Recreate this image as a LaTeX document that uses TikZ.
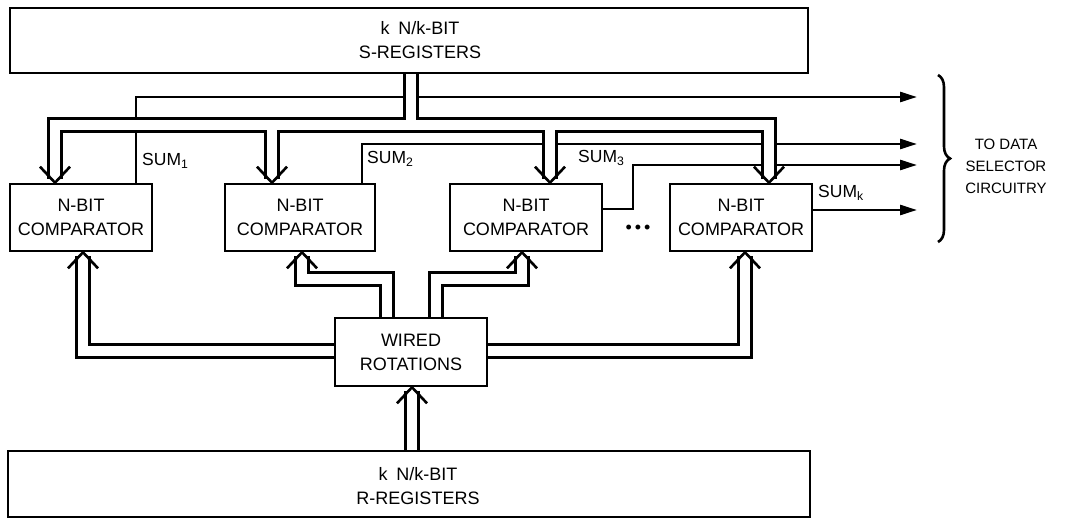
\documentclass[tikz,border=0pt]{standalone}
\usepackage{fontspec}
\setmainfont{Liberation Sans}
\usetikzlibrary{arrows.meta,decorations.pathreplacing,calc}
\newcommand\busroutes{%
  \draw[bus] (S.south -| tk) -- (tk);
  \draw[bus] ($(t1)+(0,-4)$) -- (d1) -- (d4) -- ($(t4)+(0,-4)$);
  \draw[bus] (d2) -- ($(t2)+(0,-4)$);
  \draw[bus] (d3) -- ($(t3)+(0,-4)$);
  \draw[bus] (W.west |- w1) -- (w1) -- ($(b1)+(0,4)$);
  \draw[bus] (W.north -| w2a) -- (w2a) -- (w2b) -- ($(b2)+(0,4)$);
  \draw[bus] (W.north -| w3a) -- (w3a) -- (w3b) -- ($(b3)+(0,4)$);
  \draw[bus] (W.east |- w4) -- (w4) -- ($(b4)+(0,4)$);
  \draw[bus] (R.north -| w5) -- ($(b5)+(0,4)$);
}
\newcommand\chevdn[1]{\draw[wire] ($(#1)+(-15,-16)$) -- (#1) -- ($(#1)+(15,-16)$);}
\newcommand\chevup[1]{\draw[wire] ($(#1)+(-15,16)$) -- (#1) -- ($(#1)+(15,16)$);}
\begin{document}
\begin{tikzpicture}[x=1pt,y=-1pt,
  box/.style={draw, line width=2.6pt, inner sep=0pt, outer sep=1.3pt},
  txt/.style={font=\fontsize{18}{24}\selectfont, align=center, inner sep=0pt},
  wire/.style={line width=2.6pt, line join=miter},
  sumarrow/.style={wire, -{Triangle[length=17pt,width=10pt]}},
  sumlbl/.style={font=\fontsize{17.5}{20}\selectfont, inner sep=0pt, anchor=west},
  sidetxt/.style={font=\fontsize{15}{22}\selectfont, align=center, inner sep=0pt},
]
\useasboundingbox (0,0) rectangle (1074,519);
% boxes
\node[box, minimum width=798pt, minimum height=65pt] (S) at (409,40.5) {};
\node[txt] (Stxt) at (420,40) {k\enspace N/k-BIT\\S-REGISTERS};
\node[box, minimum width=802pt, minimum height=66pt] (R) at (409,484) {};
\node[txt] (Rtxt) at (418,486) {k\enspace N/k-BIT\\R-REGISTERS};
\node[box, txt, minimum width=142pt, minimum height=67pt] (C1) at (81,217.5) {N-BIT\\COMPARATOR};
\node[box, txt, minimum width=150pt, minimum height=67pt] (C2) at (300,217.5) {N-BIT\\COMPARATOR};
\node[box, txt, minimum width=152pt, minimum height=67pt] (C3) at (526,217.5) {N-BIT\\COMPARATOR};
\node[box, txt, minimum width=142pt, minimum height=67pt] (C4) at (741,217.5) {N-BIT\\COMPARATOR};
\node[box, txt, minimum width=152pt, minimum height=68pt] (W) at (411,352) {WIRED\\ROTATIONS};
\node[txt] (dots) at (638,229) {\textbullet\,\textbullet\,\textbullet};
% coordinates
\coordinate (tk) at (411,125);
\coordinate (d1) at (55,125);
\coordinate (d2) at (272,125);
\coordinate (d3) at (550,125);
\coordinate (d4) at (769,125);
\coordinate (t1) at (d1 |- C1.north);
\coordinate (t2) at (d2 |- C2.north);
\coordinate (t3) at (d3 |- C3.north);
\coordinate (t4) at (d4 |- C4.north);
\coordinate (w1) at (83,351);
\coordinate (w2a) at (387,279);
\coordinate (w2b) at (302,279);
\coordinate (w3a) at (436,279);
\coordinate (w3b) at (522,279);
\coordinate (w4) at (745,351);
\coordinate (w5) at (412,420);
\coordinate (b1) at (w1 |- C1.south);
\coordinate (b2) at (w2b |- C2.south);
\coordinate (b3) at (w3b |- C3.south);
\coordinate (b4) at (w4 |- C4.south);
\coordinate (b5) at (w5 |- W.south);
\coordinate (s1) at (136,97);
\coordinate (s2) at (362,144);
\coordinate (s3a) at (633,209);
\coordinate (s3b) at (633,165);
\coordinate (sk) at (917,210);
\coordinate (tipx) at (917,0);
% SUM wires (under the buses)
\draw[sumarrow] (C1.north -| s1) -- (s1) -- (s1 -| tipx);
\draw[sumarrow] (C2.north -| s2) -- (s2) -- (s2 -| tipx);
\draw[sumarrow] (C3.east |- s3a) -- (s3a) -- (s3b) -- (s3b -| tipx);
\draw[sumarrow] (C4.east |- sk) -- (sk);
% buses: black then white
\begin{scope}[bus/.style={line width=15.1pt, line join=miter, black}]
\busroutes
\end{scope}
\begin{scope}[bus/.style={line width=9.9pt, line join=miter, white}]
\busroutes
\end{scope}
% arrowheads of buses
\chevdn{t1}\chevdn{t2}\chevdn{t3}\chevdn{t4}
\chevup{b1}\chevup{b2}\chevup{b3}\chevup{b4}\chevup{b5}
% labels
\node[sumlbl] (l1) at (142,161) {SUM\textsubscript{1}};
\node[sumlbl] (l2) at (367,159) {SUM\textsubscript{2}};
\node[sumlbl] (l3) at (578,158) {SUM\textsubscript{3}};
\node[sumlbl] (lk) at (818,193) {SUM\textsubscript{k}};
% brace and side text
\coordinate (br1) at (938,75);
\coordinate (br2) at (938,242);
\draw[line width=2.6pt, decorate, decoration={brace, amplitude=12pt}] (br1) -- (br2);
\node[sidetxt] (side) at (1006,166) {TO DATA\\SELECTOR\\CIRCUITRY};
\end{tikzpicture}
\end{document}
